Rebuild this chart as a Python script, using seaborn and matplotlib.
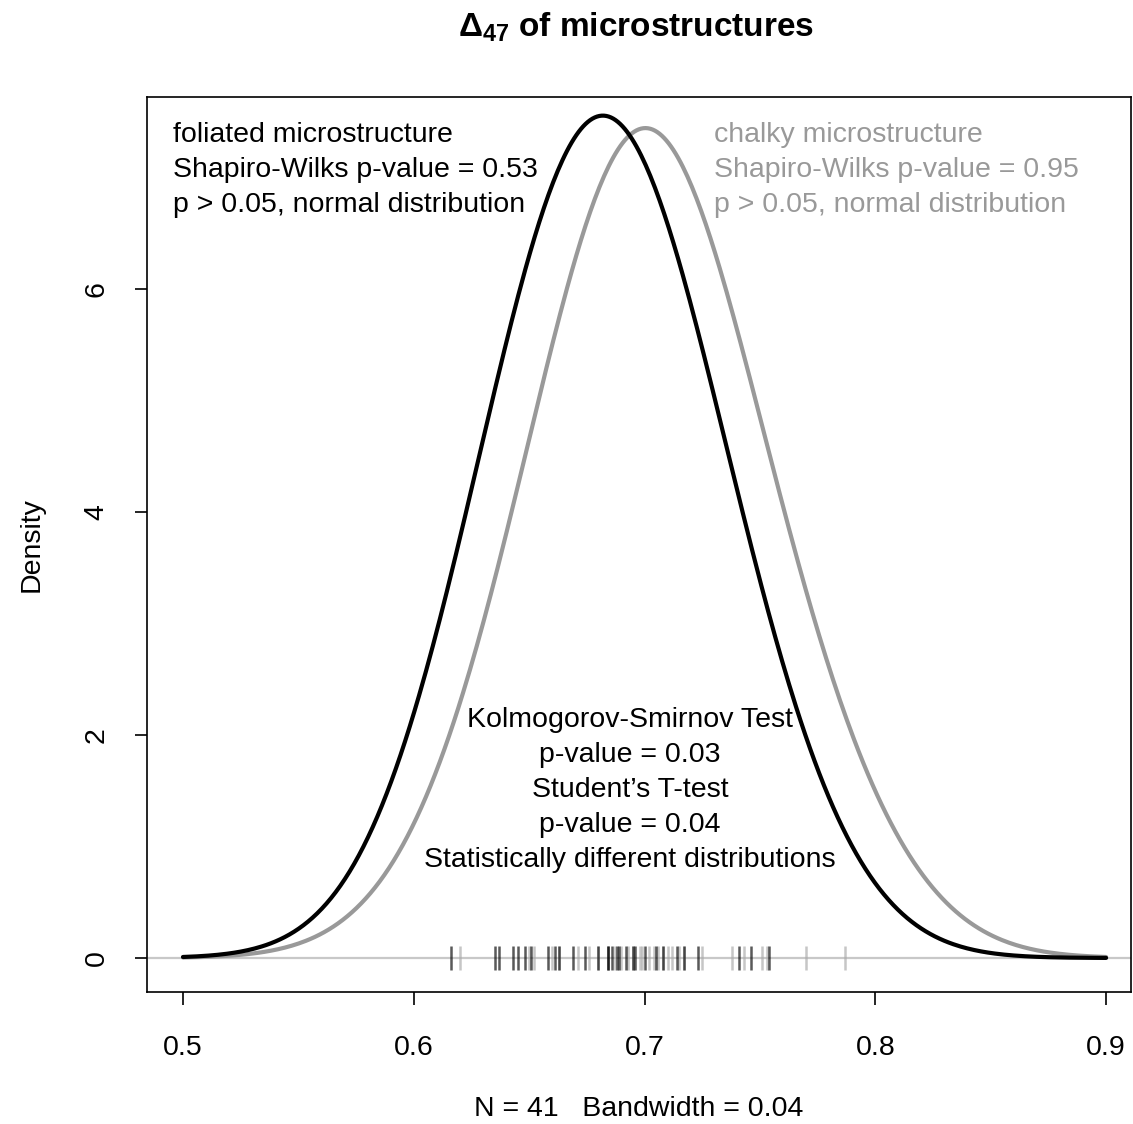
import numpy as np
import pandas as pd
import matplotlib
matplotlib.use("Agg")
import matplotlib.pyplot as plt
import seaborn as sns

foliated = [0.616, 0.635, 0.637, 0.643, 0.645, 0.648, 0.651, 0.658, 0.661, 0.663,
            0.669, 0.674, 0.680, 0.684, 0.684, 0.686, 0.688, 0.689, 0.692, 0.695,
            0.696, 0.700, 0.705, 0.708, 0.714, 0.717, 0.723, 0.741, 0.746, 0.754]
chalky = [0.620, 0.650, 0.652, 0.660, 0.663, 0.671, 0.676, 0.680, 0.687, 0.690,
          0.693, 0.695, 0.698, 0.699, 0.702, 0.704, 0.706, 0.708, 0.710, 0.712,
          0.715, 0.717, 0.725, 0.738, 0.743, 0.751, 0.753, 0.770, 0.787]
bandwidth = 0.04
xticks = [0.5, 0.6, 0.7, 0.8, 0.9]
yticks = [0, 2, 4, 6]

sns.set_theme(style="white")
plt.rcParams['font.family'] = ['Liberation Sans', 'DejaVu Sans']
plt.rcParams['mathtext.fontset'] = 'custom'
plt.rcParams['mathtext.rm'] = 'Liberation Sans'
plt.rcParams['mathtext.bf'] = 'Liberation Sans:bold'
plt.rcParams['text.color'] = 'black'
plt.rcParams['axes.labelcolor'] = 'black'
plt.rcParams['xtick.color'] = 'black'
plt.rcParams['ytick.color'] = 'black'

fig = plt.figure(figsize=(11.33, 11.24), dpi=100)
ax = fig.add_axes([147/1133, 1 - 992/1124, (1131 - 147)/1133, (992 - 97)/1124])

BLACK = "#000000"
GRAY = "#999999"

ax.axhline(0, color="#c8c8c8", lw=1.6, zorder=1)

for data, col in [(chalky, GRAY), (foliated, BLACK)]:
    arr = np.asarray(data)
    bw_factor = bandwidth / arr.std(ddof=1)
    sns.kdeplot(x=arr, bw_method=bw_factor, cut=10, clip=(0.5, 0.9), gridsize=400,
                color=col, lw=3.0, ax=ax, zorder=3)

ax.plot(chalky, np.zeros(len(chalky)), linestyle='none', marker='|', markersize=17,
        markeredgewidth=1.8, color="#a8a8a8", alpha=0.65, zorder=2)
ax.plot(foliated, np.zeros(len(foliated)), linestyle='none', marker='|', markersize=17,
        markeredgewidth=1.8, color=BLACK, alpha=0.65, zorder=2)

fs = 20.5
ax.set_xlim(0.4844, 0.9108)
ax.set_ylim(-0.305, 7.722)
ax.set_xticks(xticks)
ax.set_xticklabels([f"{t:.1f}" for t in xticks], fontsize=fs, color='black')
ax.set_yticks(yticks)
ax.set_yticklabels([str(t) for t in yticks], fontsize=fs, rotation=90, va='center',
                   color='black')
ax.tick_params(axis='both', direction='out', length=9, width=1.2, color='black',
               bottom=True, left=True)
ax.tick_params(axis='x', pad=22)
ax.tick_params(axis='y', pad=18)
for s in ax.spines.values():
    s.set_visible(True)
    s.set_color('black')
    s.set_linewidth(1.2)

ax.set_ylabel("Density", fontsize=fs, labelpad=28, color='black')
ax.set_xlabel("N = 41   Bandwidth = 0.04", fontsize=fs, labelpad=25, color='black')
fig.text(0.5613, 1 - 27/1124, r"$\mathbf{\Delta_{47}}$ of microstructures",
         ha='center', va='center', fontsize=24, fontweight='bold', color='black')

left_lines = ["foliated microstructure", "Shapiro-Wilks p-value = 0.53",
              "p > 0.05, normal distribution"]
right_lines = ["chalky microstructure", "Shapiro-Wilks p-value = 0.95",
               "p > 0.05, normal distribution"]
for i, (l, r) in enumerate(zip(left_lines, right_lines)):
    yy = (958 - (135 + 35 * i)) / 111.5
    ax.text(0.4957, yy, l, ha='left', va='center', fontsize=fs, color=BLACK)
    ax.text(0.7301, yy, r, ha='left', va='center', fontsize=fs, color=GRAY)

mid_lines = ["Kolmogorov-Smirnov Test", "p-value = 0.03", "Student\u2019s T-test",
             "p-value = 0.04", "Statistically different distributions"]
for i, t in enumerate(mid_lines):
    yy = (958 - (720 + 35 * i)) / 111.5
    ax.text(0.6937, yy, t, ha='center', va='center', fontsize=fs, color=BLACK)

fig.savefig("out.png", dpi=100)
